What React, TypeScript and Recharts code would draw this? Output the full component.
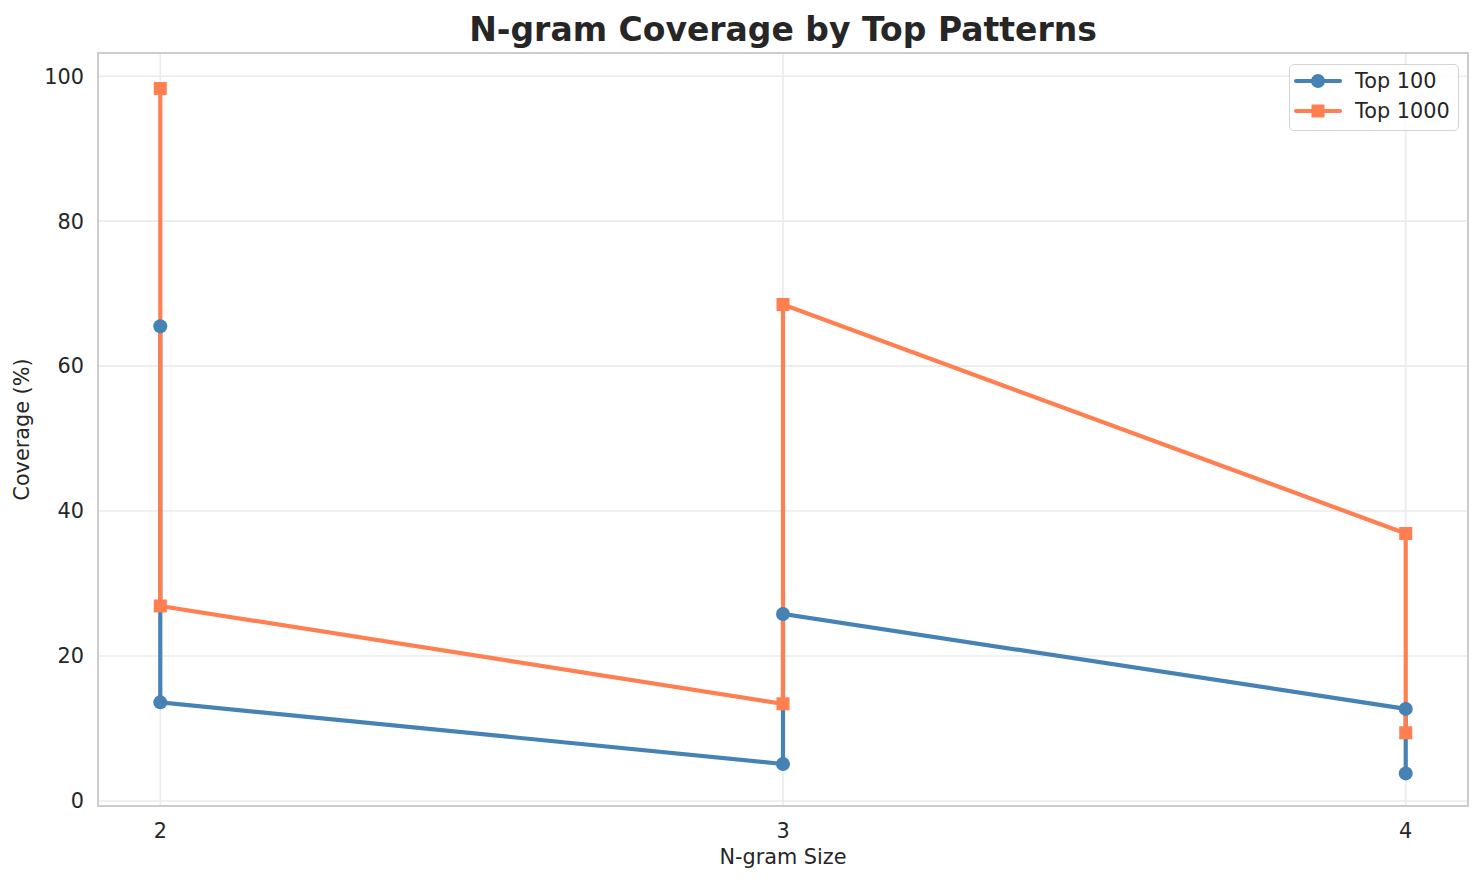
import React from 'react';
import { LineChart, Line, XAxis, YAxis, CartesianGrid, ReferenceArea } from 'recharts';

const ngramSizes = [2, 2, 3, 3, 4, 4];
const top100 = [65.5, 13.6, 5.1, 25.8, 12.7, 3.8];
const top1000 = [98.3, 26.9, 13.4, 68.5, 36.9, 9.4];
const xTicks = [2, 3, 4];
const yTicks = [0, 20, 40, 60, 80, 100];
const seriesNames = ['Top 100', 'Top 1000'];

const BLUE = '#4682B4';
const ORANGE = '#FF7F50';
const TEXT = '#262626';
const FONT = '"DejaVu Sans", Verdana, sans-serif';
const FS = 20.8;

const top100Data = ngramSizes.map((x, i) => ({ x, y: top100[i] }));
const top1000Data = ngramSizes.map((x, i) => ({ x, y: top1000[i] }));

const CircleDot = (props: any) => {
  const { cx, cy, index } = props;
  if (cx == null || cy == null) return <g key={`c${index}`} />;
  return <circle key={`c${index}`} cx={cx} cy={cy} r={7} fill={BLUE} />;
};

const SquareDot = (props: any) => {
  const { cx, cy, index } = props;
  if (cx == null || cy == null) return <g key={`s${index}`} />;
  return <rect key={`s${index}`} x={cx - 6.5} y={cy - 6.5} width={13} height={13} fill={ORANGE} />;
};

const LegendBox = () => (
  <div
    style={{
      position: 'absolute',
      left: 1289,
      top: 64,
      width: 170,
      height: 67,
      boxSizing: 'border-box',
      border: '1.5px solid #D4D4D4',
      borderRadius: 5,
      background: 'rgba(255,255,255,0.85)',
      zIndex: 3,
    }}
  >
    <svg width={170} height={67} style={{ position: 'absolute', left: -1.5, top: -1.5 }}>
      <line x1={7} y1={17} x2={51} y2={17} stroke={BLUE} strokeWidth={4.2} strokeLinecap="round" />
      <circle cx={29} cy={17} r={7} fill={BLUE} />
      <text x={66} y={17} dy="0.36em" fontSize={FS} fill={TEXT} fontFamily={FONT}>
        {seriesNames[0]}
      </text>
      <line x1={7} y1={47} x2={51} y2={47} stroke={ORANGE} strokeWidth={4.2} strokeLinecap="round" />
      <rect x={22.5} y={40.5} width={13} height={13} fill={ORANGE} />
      <text x={66} y={47} dy="0.36em" fontSize={FS} fill={TEXT} fontFamily={FONT}>
        {seriesNames[1]}
      </text>
    </svg>
  </div>
);

export default function App() {
  return (
    <div style={{ position: 'absolute', left: 0, top: 0, width: 1484, height: 885, background: '#fff', fontFamily: FONT }}>
      <div
        style={{
          position: 'absolute',
          left: 98,
          width: 1370,
          top: 13,
          textAlign: 'center',
          fontSize: 33,
          lineHeight: '33px',
          fontWeight: 'bold',
          color: TEXT,
          fontFamily: FONT,
          zIndex: 2,
        }}
      >
        N-gram Coverage by Top Patterns
      </div>
      <LineChart width={1484} height={885} margin={{ top: 53, right: 16, left: 0, bottom: 0 }}>
        <CartesianGrid stroke="#EBEBEB" strokeWidth={1.6} />
        <XAxis
          dataKey="x"
          type="number"
          domain={[1.9, 4.1]}
          ticks={xTicks}
          allowDataOverflow
          height={79}
          axisLine={false}
          tickLine={false}
          tickSize={0}
          tickMargin={17}
          tick={{ fill: TEXT, fontSize: FS, fontFamily: FONT }}
          label={{ value: 'N-gram Size', position: 'insideBottom', offset: 21, fill: TEXT, fontSize: FS, fontFamily: FONT }}
        />
        <YAxis
          type="number"
          domain={[-0.7, 103.2]}
          ticks={yTicks}
          allowDataOverflow
          width={98}
          axisLine={false}
          tickLine={false}
          tickSize={0}
          tickMargin={14}
          tick={{ fill: TEXT, fontSize: FS, fontFamily: FONT }}
          label={{
            value: 'Coverage (%)',
            angle: -90,
            position: 'insideLeft',
            offset: 22,
            fill: TEXT,
            fontSize: FS,
            fontFamily: FONT,
            style: { textAnchor: 'middle' },
          }}
        />
        <ReferenceArea x1={1.9} x2={4.1} y1={-0.7} y2={103.2} fill="none" fillOpacity={0} stroke="#CCCCCC" strokeWidth={2} />
        <Line
          data={top100Data}
          dataKey="y"
          name={seriesNames[0]}
          type="linear"
          stroke={BLUE}
          strokeWidth={4.2}
          dot={CircleDot}
          activeDot={false}
          isAnimationActive={false}
        />
        <Line
          data={top1000Data}
          dataKey="y"
          name={seriesNames[1]}
          type="linear"
          stroke={ORANGE}
          strokeWidth={4.2}
          dot={SquareDot}
          activeDot={false}
          isAnimationActive={false}
        />
      </LineChart>
      <LegendBox />
    </div>
  );
}
